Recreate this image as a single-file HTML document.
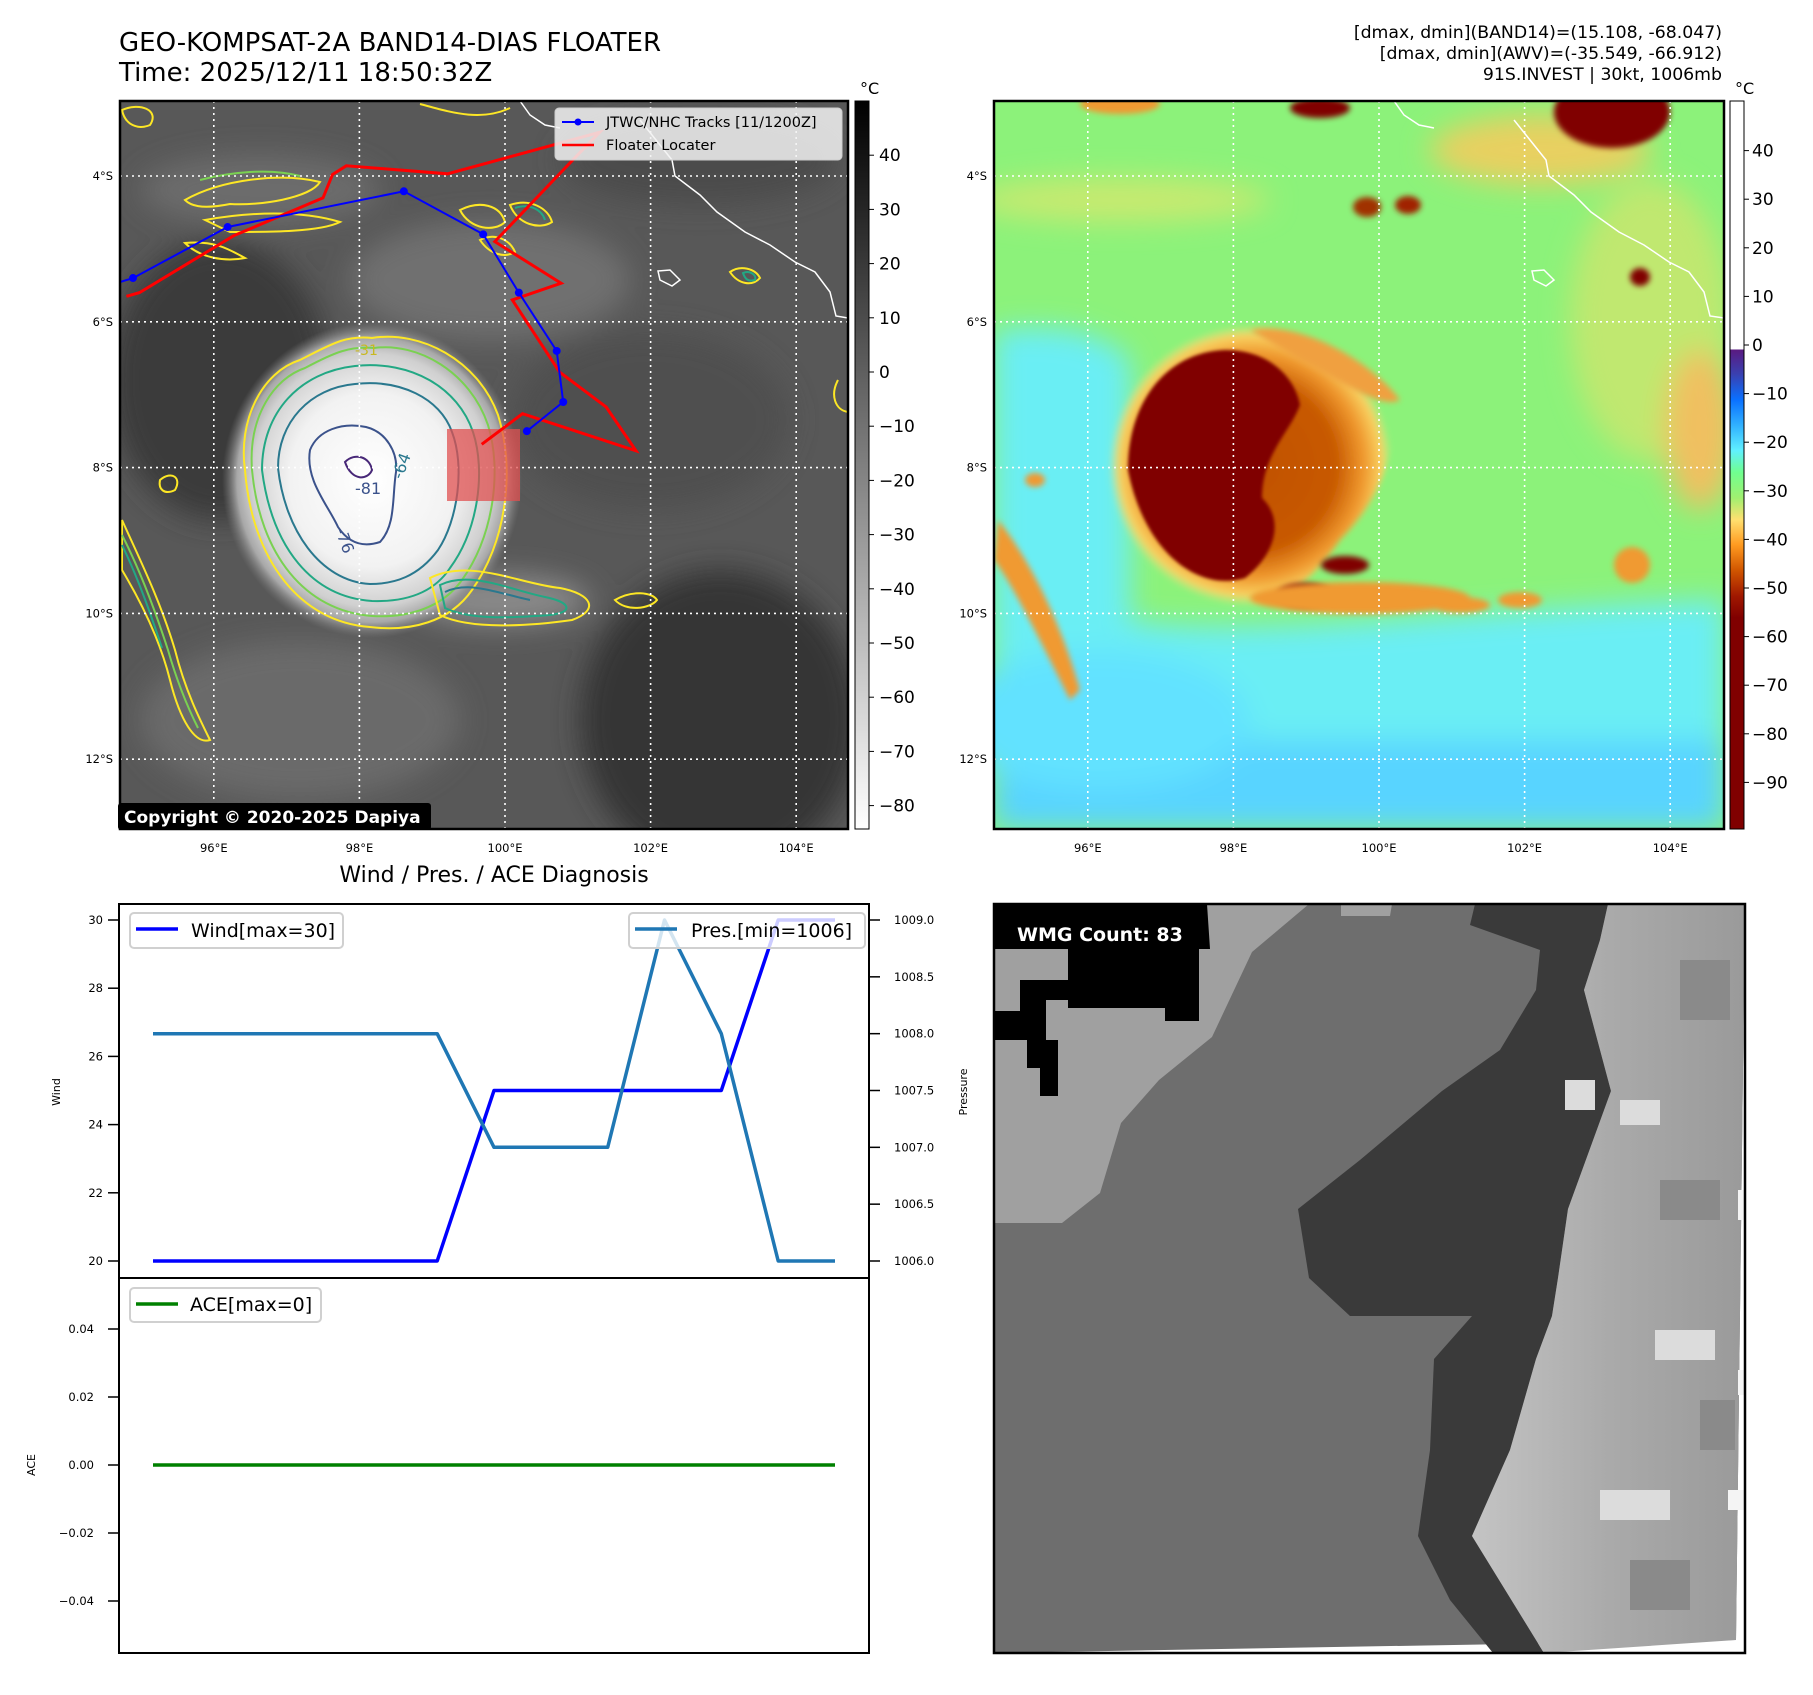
<!DOCTYPE html>
<html><head><meta charset="utf-8">
<style>
html,body{margin:0;padding:0;background:#fff;}
body{width:1813px;height:1690px;position:relative;overflow:hidden;font-family:"Liberation Sans","DejaVu Sans",sans-serif;}
svg text{font-family:"DejaVu Sans","Liberation Sans",sans-serif;}
</style></head>
<body>
<svg id="fig" width="1813" height="1690" viewBox="0 0 1813 1690" xmlns="http://www.w3.org/2000/svg">
<defs>
  <clipPath id="clipL"><rect x="120" y="101" width="728" height="728"/></clipPath>
  <clipPath id="clipR"><rect x="994" y="101" width="730" height="728"/></clipPath>
  <clipPath id="clipB"><rect x="994" y="904" width="751" height="749"/></clipPath>
  <filter id="blur20"><feGaussianBlur stdDeviation="14"/></filter>
  <filter id="blur4"><feGaussianBlur stdDeviation="3"/></filter>
  <filter id="blur2"><feGaussianBlur stdDeviation="1.5"/></filter>
  <radialGradient id="core" cx="0.5" cy="0.5" r="0.5">
    <stop offset="0" stop-color="#ffffff"/><stop offset="0.55" stop-color="#f2f2f2"/><stop offset="0.8" stop-color="#d0d0d0"/><stop offset="0.9" stop-color="#a8a8a8"/><stop offset="1" stop-color="#808080" stop-opacity="0"/>
  </radialGradient>
  <radialGradient id="stormR" cx="0.5" cy="0.5" r="0.5">
    <stop offset="0" stop-color="#c05000"/><stop offset="0.6" stop-color="#c85a00"/><stop offset="0.8" stop-color="#f09a30"/><stop offset="0.92" stop-color="#f8d060"/><stop offset="1" stop-color="#ffe080" stop-opacity="0"/>
  </radialGradient>
  <linearGradient id="cbGray" x1="0" y1="0" x2="0" y2="1">
    <stop offset="0" stop-color="#000"/><stop offset="1" stop-color="#fff"/>
  </linearGradient>
  <linearGradient id="cbColor" x1="0" y1="0" x2="0" y2="1">
    <stop offset="0" stop-color="#ffffff"/>
    <stop offset="0.3414" stop-color="#ffffff"/>
    <stop offset="0.3415" stop-color="#5a1a80"/>
    <stop offset="0.375" stop-color="#3a40b0"/>
    <stop offset="0.41" stop-color="#0a70ff"/>
    <stop offset="0.445" stop-color="#30b0ff"/>
    <stop offset="0.48" stop-color="#60f0ff"/>
    <stop offset="0.51" stop-color="#70ff90"/>
    <stop offset="0.545" stop-color="#a0f070"/>
    <stop offset="0.575" stop-color="#ffe070"/>
    <stop offset="0.61" stop-color="#ff9a20"/>
    <stop offset="0.645" stop-color="#d05500"/>
    <stop offset="0.68" stop-color="#a01800"/>
    <stop offset="0.71" stop-color="#800000"/>
    <stop offset="1" stop-color="#800000"/>
  </linearGradient>
  <linearGradient id="speck" x1="0" y1="0" x2="1" y2="0">
    <stop offset="0" stop-color="#c4c4c4"/><stop offset="0.5" stop-color="#aaaaaa"/><stop offset="1" stop-color="#9a9a9a"/>
  </linearGradient>
</defs>

<!-- Titles -->
<text x="119" y="51" font-size="26">GEO-KOMPSAT-2A BAND14-DIAS FLOATER</text>
<text x="119" y="81" font-size="26">Time: 2025/12/11 18:50:32Z</text>
<g font-size="17.3" text-anchor="end">
  <text x="1722" y="38">[dmax, dmin](BAND14)=(15.108, -68.047)</text>
  <text x="1722" y="59">[dmax, dmin](AWV)=(-35.549, -66.912)</text>
  <text x="1722" y="80">91S.INVEST | 30kt, 1006mb</text>
</g>

<!-- LEFT MAP -->
<g clip-path="url(#clipL)">
  <rect x="120" y="101" width="728" height="728" fill="#585858"/>
  <g filter="url(#blur20)">
    <ellipse cx="220" cy="380" rx="110" ry="140" fill="#3a3a3a"/>
    <ellipse cx="720" cy="720" rx="140" ry="150" fill="#353535"/>
    <ellipse cx="490" cy="280" rx="140" ry="60" fill="#707070"/>
    <ellipse cx="300" cy="720" rx="160" ry="80" fill="#6a6a6a"/>
    <ellipse cx="650" cy="420" rx="140" ry="90" fill="#505050"/>
    <ellipse cx="260" cy="190" rx="120" ry="35" fill="#6c6c6c"/>
    <ellipse cx="700" cy="160" rx="140" ry="45" fill="#4c4c4c"/>
    <ellipse cx="500" cy="600" rx="90" ry="25" fill="#8a8a8a"/>
  </g>
  <ellipse cx="372" cy="480" rx="150" ry="158" fill="url(#core)"/>
  <!-- contours -->
  <g fill="none" stroke-width="2" filter="url(#blur2)" opacity="1">
  </g>
  <g fill="none" stroke-width="2">
    <path d="M245,470 C238,420 262,372 300,360 C330,345 345,335 372,338 C420,330 478,360 498,415 C515,470 507,540 472,590 C450,622 410,632 370,627 C300,622 252,560 245,470 Z" stroke="#fde725"/>
    <path d="M252,470 C248,415 275,378 305,368 C335,352 350,346 374,348 C418,342 470,372 488,425 C502,470 494,535 462,580 C442,608 408,618 372,616 C305,611 260,555 252,470 Z" stroke="#7ad151"/>
    <path d="M262,470 C262,412 300,372 355,366 C412,360 458,388 473,432 C486,472 478,530 450,568 C433,594 404,602 372,601 C312,597 272,548 262,470 Z" stroke="#22a884"/>
    <path d="M278,468 C278,422 310,388 355,384 C400,379 440,398 452,432 C465,466 458,520 438,550 C418,577 394,584 370,584 C320,581 285,530 278,468 Z" stroke="#2a788e"/>
    <path d="M310,450 C318,430 342,422 366,427 C386,432 398,452 396,472 C392,497 396,525 380,542 C362,548 348,542 338,527 C328,505 305,480 310,450 Z" stroke="#3b528b"/>
    <path d="M345,462 C355,452 370,457 372,470 C368,480 352,482 345,462 Z" stroke="#482878"/>
    <path d="M430,578 C470,558 520,584 560,588 C592,594 600,610 572,620 C530,626 470,630 440,615 Z" stroke="#fde725"/>
    <path d="M440,585 C470,570 510,590 545,597 C570,602 575,612 550,615 C510,618 470,620 445,608 Z" stroke="#22a884"/>
    <path d="M445,592 C470,580 500,594 530,600" stroke="#2a788e"/>
    <path d="M615,600 C632,590 652,592 657,600 C650,609 626,612 615,600 Z" stroke="#fde725"/>
    <path d="M122,520 C140,560 160,600 175,650 C185,690 200,720 210,740 C195,745 180,720 170,680 C160,640 140,600 122,570 Z" stroke="#fde725"/>
    <path d="M122,535 C140,570 155,610 168,650 C178,685 190,712 198,728" stroke="#7ad151"/>
    <path d="M122,545 C138,578 150,612 162,648" stroke="#22a884"/>
    <path d="M185,200 C220,180 280,172 320,182 C310,198 260,206 230,204 C200,210 190,205 185,200 Z" stroke="#fde725"/>
    <path d="M200,180 C230,172 270,168 300,176" stroke="#7ad151"/>
    <path d="M205,220 C250,212 300,210 340,222 C320,232 270,232 230,232 Z" stroke="#fde725"/>
    <path d="M185,243 C215,240 230,250 245,258 C225,262 200,258 185,243 Z" stroke="#fde725"/>
    <path d="M460,210 C480,200 500,205 505,222 C495,232 470,230 460,210 Z" stroke="#fde725"/>
    <path d="M510,205 C530,198 548,208 552,222 C540,230 518,225 510,205 Z" stroke="#fde725"/>
    <path d="M515,208 C530,203 542,210 545,220" stroke="#22a884"/>
    <path d="M480,240 C495,232 510,240 515,252 C505,258 490,255 480,240 Z" stroke="#fde725"/>
    <path d="M730,272 C740,265 755,268 760,278 C752,287 738,284 730,272 Z" stroke="#fde725"/>
    <path d="M743,273 C750,270 757,275 755,280 C748,282 745,279 743,273 Z" stroke="#22a884"/>
    <path d="M122,110 C140,102 160,110 150,125 C138,130 125,125 122,110 Z" stroke="#fde725"/>
    <path d="M420,104 C450,112 480,122 510,108" stroke="#fde725"/>
    <path d="M838,380 C830,395 835,410 848,412" stroke="#fde725"/>
    <path d="M160,480 C172,470 182,478 175,490 C165,495 158,490 160,480 Z" stroke="#fde725"/>
  </g>
  <g font-size="14">
    <text x="355" y="355" fill="#c8b820">-31</text>
    <text x="355" y="494" fill="#3b528b" font-size="16">-81</text>
    <text x="335" y="530" fill="#3b528b" font-size="16" transform="rotate(70 335 530)">-76</text>
    <text x="402" y="480" fill="#2a788e" font-size="16" transform="rotate(-70 402 480)">-64</text>
  </g>
  <!-- coast -->
  <path d="M520,101 L530,115 L545,125 L560,128 M640,120 L672,160 L675,176 L700,195 L717,212 L745,232 L770,245 L795,262 L815,272 L830,292 L836,316 L848,318" fill="none" stroke="#fff" stroke-width="1.5"/>
  <path d="M658,271 L670,270 L680,280 L672,286 L660,280 Z" fill="none" stroke="#fff" stroke-width="1.5"/>
  <g id="gridL" stroke="#fff" stroke-width="1.6" stroke-dasharray="2,4"></g>
  <rect x="447" y="429" width="73" height="72" fill="#e05050" fill-opacity="0.75"/>
  <polyline id="redTrack" fill="none" stroke="#ff0000" stroke-width="3"/>
  <polyline id="blueTrack" fill="none" stroke="#0000ff" stroke-width="2"/>
  <g id="blueDots"></g>
</g>
<rect x="120" y="101" width="728" height="728" fill="none" stroke="#000" stroke-width="2.5"/>
<g>
  <rect x="555" y="108" width="287" height="52" rx="4" fill="#f2f2f2" fill-opacity="0.85" stroke="#ccc"/>
  <line x1="562" y1="122" x2="594" y2="122" stroke="#0000ff" stroke-width="2"/>
  <circle cx="578" cy="122" r="3.5" fill="#0000ff"/>
  <line x1="562" y1="145" x2="594" y2="145" stroke="#ff0000" stroke-width="2.5"/>
  <text x="606" y="127" font-size="14.5">JTWC/NHC Tracks [11/1200Z]</text>
  <text x="606" y="150" font-size="14.5">Floater Locater</text>
</g>
<g>
  <rect x="118" y="803" width="313" height="27" rx="3" fill="#000"/>
  <text x="124" y="823" font-size="17" font-weight="bold" fill="#fff">Copyright © 2020-2025 Dapiya</text>
</g>
<g>
  <rect x="855" y="101" width="14" height="728" fill="url(#cbGray)" stroke="#000" stroke-width="1"/>
  <text x="860" y="94" font-size="16">°C</text>
  <g id="cbLticks" font-size="17"></g>
</g>

<!-- RIGHT MAP -->
<g clip-path="url(#clipR)">
  <rect x="994" y="101" width="730" height="728" fill="#8cf27a"/>
  <g filter="url(#blur20)">
    <path d="M994,330 C1060,325 1100,330 1130,360 L1130,620 C1250,640 1450,610 1724,600 L1724,829 L994,829 Z" fill="#6aeef4"/>
    <path d="M994,740 L1724,740 L1724,829 L994,829 Z" fill="#58d4ff"/>
    <ellipse cx="1100" cy="720" rx="150" ry="70" fill="#62e2ff"/>
    <ellipse cx="1650" cy="320" rx="80" ry="140" fill="#c0e870"/>
    <ellipse cx="1120" cy="200" rx="150" ry="22" fill="#c8ea70"/>
    <ellipse cx="1540" cy="150" rx="110" ry="35" fill="#e8d060"/>
    <ellipse cx="1700" cy="430" rx="35" ry="80" fill="#f0c060"/>
  </g>
  <path d="M1110,480 C1100,400 1150,330 1230,325 C1300,325 1350,370 1390,400 C1400,450 1380,500 1340,540 C1300,600 1260,610 1220,605 C1160,600 1120,560 1110,480 Z" fill="url(#stormR)" filter="url(#blur4)"/>
  <path d="M1250,330 C1300,320 1370,360 1400,400 C1380,410 1340,380 1300,360 Z" fill="#f0a040" filter="url(#blur4)"/>
  <path d="M1128,470 C1128,400 1168,352 1225,350 C1270,350 1295,378 1300,405 C1290,432 1262,455 1262,498 C1285,520 1275,555 1245,578 C1200,592 1145,555 1128,470 Z" fill="#800000" filter="url(#blur2)"/>
  <g fill="#800000" filter="url(#blur4)">
    <ellipse cx="1612" cy="112" rx="58" ry="36"/>
    <ellipse cx="1320" cy="108" rx="30" ry="10"/>
    <ellipse cx="1367" cy="207" rx="14" ry="10" fill="#a03000"/>
    <ellipse cx="1408" cy="205" rx="13" ry="9" fill="#a02000"/>
    <ellipse cx="1640" cy="277" rx="10" ry="9"/>
    <ellipse cx="1305" cy="595" rx="28" ry="12"/>
    <ellipse cx="1345" cy="565" rx="24" ry="9"/>
  </g>
  <g fill="#f09a30" filter="url(#blur4)">
    <ellipse cx="1360" cy="598" rx="110" ry="16"/>
    <ellipse cx="1460" cy="605" rx="30" ry="8"/>
    <ellipse cx="1520" cy="600" rx="22" ry="8"/>
    <ellipse cx="1632" cy="565" rx="18" ry="18"/>
    <path d="M998,520 C1030,560 1060,620 1080,690 L1070,700 C1040,640 1010,580 994,560 Z"/>
    <ellipse cx="1035" cy="480" rx="10" ry="7"/>
    <ellipse cx="1120" cy="104" rx="40" ry="10"/>
  </g>
  <path d="M1394,101 L1404,115 L1419,125 L1434,128 M1514,120 L1546,160 L1549,176 L1574,195 L1591,212 L1619,232 L1644,245 L1669,262 L1689,272 L1704,292 L1710,316 L1724,318" fill="none" stroke="#fff" stroke-width="1.5"/>
  <path d="M1532,271 L1544,270 L1554,280 L1546,286 L1534,280 Z" fill="none" stroke="#fff" stroke-width="1.5"/>
  <g id="gridR" stroke="#fff" stroke-width="1.6" stroke-dasharray="2,4"></g>
</g>
<rect x="994" y="101" width="730" height="728" fill="none" stroke="#000" stroke-width="2.5"/>
<g>
  <rect x="1730" y="101" width="14" height="728" fill="url(#cbColor)" stroke="#000" stroke-width="1"/>
  <text x="1735" y="94" font-size="16">°C</text>
  <g id="cbRticks" font-size="17"></g>
</g>
<g id="latLonLabels" font-size="11.5"></g>

<!-- BOTTOM LEFT CHART -->
<text x="494" y="882" font-size="22" text-anchor="middle">Wind / Pres. / ACE Diagnosis</text>
<rect x="119" y="904" width="750" height="374" fill="#fff" stroke="#000" stroke-width="2"/>
<rect x="119" y="1278" width="750" height="375" fill="#fff" stroke="#000" stroke-width="2"/>
<g id="chart"></g>
<text x="60" y="1092" font-size="11" text-anchor="middle" transform="rotate(-90 60 1092)">Wind</text>
<text x="35" y="1465" font-size="11" text-anchor="middle" transform="rotate(-90 35 1465)">ACE</text>
<text x="967" y="1092" font-size="11" text-anchor="middle" transform="rotate(-90 967 1092)">Pressure</text>
<g>
  <rect x="130" y="913" width="213" height="35" rx="4" fill="#fff" stroke="#d0d0d0" stroke-width="2"/>
  <line x1="136" y1="929" x2="178" y2="929" stroke="#0000ff" stroke-width="3.5"/>
  <text x="191" y="937" font-size="19">Wind[max=30]</text>
</g>
<g>
  <rect x="629" y="913" width="236" height="35" rx="4" fill="#fff" fill-opacity="0.8" stroke="#d0d0d0" stroke-width="2"/>
  <line x1="635" y1="929" x2="677" y2="929" stroke="#1f77b4" stroke-width="3.5"/>
  <text x="691" y="937" font-size="19">Pres.[min=1006]</text>
</g>
<g>
  <rect x="130" y="1288" width="191" height="34" rx="4" fill="#fff" stroke="#d0d0d0" stroke-width="2"/>
  <line x1="136" y1="1304" x2="178" y2="1304" stroke="#008000" stroke-width="3.5"/>
  <text x="190" y="1311" font-size="19">ACE[max=0]</text>
</g>

<!-- BOTTOM RIGHT WMG -->
<g clip-path="url(#clipB)">
  <rect x="994" y="904" width="751" height="749" fill="#fff"/>
  <path d="M994,904 L1745,904 L1736,1640 L994,1653 Z" fill="#6e6e6e"/>
  <path d="M994,904 L1309,904 L1252,952 L1212,1037 L1159,1080 L1121,1123 L1100,1193 L1062,1223 L994,1223 Z" fill="#a0a0a0"/>
  <path d="M1341,904 L1392,904 L1390,916 L1341,916 Z" fill="#a0a0a0"/>
  <path d="M994,904 L1207,904 L1210,949 L1199,949 L1199,1021 L1165,1021 L1165,1008 L1068,1008 L1068,1000 L1046,1000 L1046,1040 L1058,1040 L1058,1096 L1040,1096 L1040,1068 L1027,1068 L1027,1040 L994,1040 Z M994,949 L994,1011 L1020,1011 L1020,980 L1068,980 L1068,949 Z" fill="#000" fill-rule="evenodd"/>
  <path d="M1475,904 L1608,904 L1600,940 L1584,990 L1611,1091 L1568,1209 L1558,1278 L1552,1316 L1536,1359 L1510,1450 L1472,1536 L1544,1653 L1493,1653 L1450,1600 L1418,1536 L1430,1450 L1434,1359 L1472,1316 L1350,1316 L1309,1278 L1298,1209 L1360,1160 L1442,1091 L1500,1050 L1536,990 L1540,950 L1470,925 Z" fill="#3a3a3a"/>
  <path d="M1608,904 L1745,904 L1736,1640 L1544,1653 L1472,1536 L1510,1450 L1536,1359 L1552,1316 L1558,1278 L1568,1209 L1611,1091 L1584,990 L1600,940 Z" fill="url(#speck)"/>
  <g fill="#dcdcdc">
    <rect x="1655" y="1330" width="60" height="30"/>
    <rect x="1600" y="1490" width="70" height="30"/>
    <rect x="1565" y="1080" width="30" height="30"/>
    <rect x="1620" y="1100" width="40" height="25"/>
  </g>
  <g fill="#8a8a8a">
    <rect x="1660" y="1180" width="60" height="40"/>
    <rect x="1700" y="1400" width="35" height="50"/>
    <rect x="1630" y="1560" width="60" height="50"/>
    <rect x="1680" y="960" width="50" height="60"/>
  </g>
  <g fill="#f4f4f4">
    <rect x="1738" y="1190" width="9" height="30"/>
    <rect x="1738" y="1370" width="9" height="25"/>
    <rect x="1728" y="1490" width="19" height="20"/>
  </g>
</g>
<rect x="994" y="904" width="751" height="749" fill="none" stroke="#000" stroke-width="2.5"/>
<g>
  <rect x="1009" y="917" width="191" height="32" rx="4" fill="#000"/>
  <text x="1017" y="941" font-size="19" font-weight="bold" fill="#fff">WMG Count: 83</text>
</g>

<script>
// ---- chart data ----
var windVals = [20,20,20,20,20,20,25,25,25,25,25,30,30];
var presVals = [1008,1008,1008,1008,1008,1008,1007,1007,1007,1009,1008,1006,1006];
var aceVals  = [0,0,0,0,0,0,0,0,0,0,0,0,0];
var windTicks = [20,22,24,26,28,30];
var presTicks = [1006.0,1006.5,1007.0,1007.5,1008.0,1008.5,1009.0];
var aceTicks  = [-0.04,-0.02,0.00,0.02,0.04];
// ---- map data ----
var trackLon = [94.89,96.19,98.61,99.70,100.19,100.71,100.80,100.30];
var trackLat = [-5.40,-4.70,-4.21,-4.80,-5.60,-6.40,-7.10,-7.50];
var floaterLon = [94.80,94.98,96.27,97.50,97.63,97.82,99.21,101.30,100.98,99.86,100.77,100.10,100.75,101.39,101.80,100.24,99.68];
var floaterLat = [-5.65,-5.60,-4.82,-4.30,-3.98,-3.86,-3.97,-3.40,-3.73,-4.90,-5.47,-5.70,-6.69,-7.17,-7.77,-7.26,-7.68];
var lonTicks = [96,98,100,102,104];
var latTicks = [-4,-6,-8,-10,-12];
var cbLTicks = [40,30,20,10,0,-10,-20,-30,-40,-50,-60,-70,-80];
var cbRTicks = [40,30,20,10,0,-10,-20,-30,-40,-50,-60,-70,-80,-90];

var NS = 'http://www.w3.org/2000/svg';
function mk(tag, attrs, parent){var e=document.createElementNS(NS,tag);for(var k in attrs)e.setAttribute(k,attrs[k]);parent.appendChild(e);return e;}

function xIdx(i){return 153 + i*(835-153)/(windVals.length-1);}
function yWind(v){return 1261 + (v-20)*(920-1261)/10;}
function yPres(v){return 1261 + (v-1006)*(920-1261)/3;}
function yAce(v){return 1465 - v*3400;}
function lonX(lon, off){return 505 + off + (lon-100)*72.8;}
function latY(lat){return 176 + (-lat-4)*72.9;}
function cbLY(v){return 372 - v*5.42;}
function cbRY(v){return 345 - v*4.86;}

var chart = document.getElementById('chart');
function series(vals, yf, color, name){
  var pts = vals.map(function(v,i){return xIdx(i).toFixed(1)+','+yf(v).toFixed(1);}).join(' ');
  var p = mk('polyline',{points:pts,fill:'none',stroke:color,'stroke-width':3.5,'stroke-linejoin':'round'},chart);
  
  
}
series(aceVals, yAce, '#008000', 'ace-line');
series(windVals, yWind, '#0000ff', 'wind-line');
series(presVals, yPres, '#1f77b4', 'pressure-line');

windTicks.forEach(function(t){
  var y=yWind(t);
  mk('line',{x1:108,y1:y,x2:119,y2:y,stroke:'#000','stroke-width':1.5},chart);
  var tx=mk('text',{x:103,y:y+4,'font-size':11.5,'text-anchor':'end'},chart);tx.textContent=t;
  
  
});
presTicks.forEach(function(t){
  var y=yPres(t);
  mk('line',{x1:869,y1:y,x2:880,y2:y,stroke:'#000','stroke-width':1.5},chart);
  var tx=mk('text',{x:894,y:y+4,'font-size':11.5},chart);tx.textContent=t.toFixed(1);
  
  
});
aceTicks.forEach(function(t){
  var y=yAce(t);
  mk('line',{x1:108,y1:y,x2:119,y2:y,stroke:'#000','stroke-width':1.5},chart);
  var tx=mk('text',{x:94,y:y+4,'font-size':11.5,'text-anchor':'end'},chart);tx.textContent=(t<0?'\u2212':'')+Math.abs(t).toFixed(2);
  
  
});

['gridL','gridR'].forEach(function(id,k){
  var g=document.getElementById(id), off=k?874:0;
  lonTicks.forEach(function(l){var x=lonX(l,off);mk('line',{x1:x,y1:101,x2:x,y2:829},g);});
  latTicks.forEach(function(l){var y=latY(l);mk('line',{x1:120+off,y1:y,x2:848+off+2,y2:y},g);});
});
var ll=document.getElementById('latLonLabels');
[0,874].forEach(function(off){
  lonTicks.forEach(function(l){
    var t=mk('text',{x:lonX(l,off),y:852,'text-anchor':'middle'},ll);t.textContent=l+'°E';
    
    
  });
  latTicks.forEach(function(l){
    var t=mk('text',{x:113+off,y:latY(l)+4,'text-anchor':'end'},ll);t.textContent=(-l)+'°S';
    
    
  });
});
document.getElementById('blueTrack').setAttribute('points',
  ['120,282'].concat(trackLon.map(function(l,i){return lonX(l,0).toFixed(1)+','+latY(trackLat[i]).toFixed(1);})).join(' '));
var bd=document.getElementById('blueDots');
trackLon.forEach(function(l,i){
  var c=mk('circle',{cx:lonX(l,0),cy:latY(trackLat[i]),r:4,fill:'#0000ff'},bd);
  
  
});
document.getElementById('redTrack').setAttribute('points',
  floaterLon.map(function(l,i){return lonX(l,0).toFixed(1)+','+latY(floaterLat[i]).toFixed(1);}).join(' '));
var cl=document.getElementById('cbLticks');
cbLTicks.forEach(function(v){
  var y=cbLY(v);
  mk('line',{x1:869,y1:y,x2:874,y2:y,stroke:'#000'},cl);
  var t=mk('text',{x:879,y:y+6},cl);t.textContent=(v<0?'\u2212':'')+Math.abs(v);
  
  
});
var cr=document.getElementById('cbRticks');
cbRTicks.forEach(function(v){
  var y=cbRY(v);
  mk('line',{x1:1744,y1:y,x2:1749,y2:y,stroke:'#000'},cr);
  var t=mk('text',{x:1752,y:y+6},cr);t.textContent=(v<0?'\u2212':'')+Math.abs(v);
  
  
});
</script>
</svg>
</body></html>
